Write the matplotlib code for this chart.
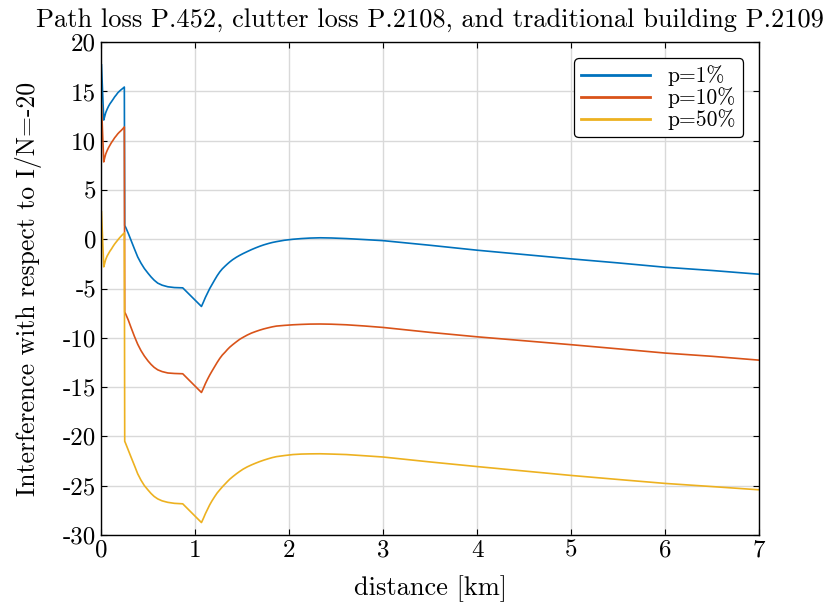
import matplotlib.pyplot as plt
import numpy as np

plt.rcParams['font.family'] = 'serif'
plt.rcParams['font.serif'] = ['cmr10']
plt.rcParams['mathtext.fontset'] = 'cm'
plt.rcParams['axes.unicode_minus'] = False
plt.rcParams['axes.formatter.use_mathtext'] = False

# distance [km] samples shared by the three curves
dist = [0.005, 0.029, 0.04, 0.05, 0.065, 0.08, 0.095, 0.11, 0.128, 0.145,
        0.162, 0.178, 0.195, 0.21, 0.23, 0.248,
        0.252, 0.263, 0.29, 0.319, 0.355, 0.39, 0.425, 0.461, 0.5, 0.532,
        0.565, 0.603, 0.65, 0.71, 0.78, 0.869,
        1.068, 1.09, 1.11, 1.133, 1.156, 1.18, 1.21, 1.235, 1.263, 1.29,
        1.32, 1.345, 1.369, 1.4, 1.44, 1.475, 1.511, 1.555, 1.6, 1.645,
        1.688, 1.73, 1.78, 1.82, 1.866, 1.95, 2.04, 2.13, 2.22, 2.33,
        2.45, 2.61, 2.8,
        3.0, 3.5, 4.0, 4.5, 5.0, 5.5, 6.0, 6.5, 7.0]

# interference margin for each time percentage
p1 = [17.7, 12.1, 12.5, 12.85, 13.2, 13.5, 13.75, 13.95, 14.2, 14.45,
      14.65, 14.86, 15.02, 15.15, 15.3, 15.45,
      1.4, 1.2, 0.6, -0.1, -0.97, -1.79, -2.42, -2.97, -3.45, -3.82,
      -4.15, -4.45, -4.66, -4.82, -4.9, -4.93,
      -6.82, -6.35, -5.9, -5.45, -5.0, -4.6, -4.1, -3.7, -3.31, -3.0,
      -2.72, -2.5, -2.30, -2.07, -1.82, -1.63, -1.45, -1.25, -1.05, -0.87,
      -0.71, -0.57, -0.43, -0.33, -0.24, -0.1, 0.0, 0.07, 0.12, 0.15,
      0.13, 0.07, -0.03,
      -0.14, -0.61, -1.11, -1.55, -1.99, -2.40, -2.84, -3.17, -3.55]
p10 = [13.6, 7.85, 8.3, 8.65, 9.0, 9.3, 9.55, 9.8, 10.05, 10.3,
       10.5, 10.7, 10.87, 11.0, 11.2, 11.4,
       -7.4, -7.6, -8.2, -8.95, -9.85, -10.65, -11.3, -11.85, -12.35, -12.7,
       -13.0, -13.25, -13.43, -13.57, -13.62, -13.65,
       -15.55, -15.1, -14.65, -14.2, -13.78, -13.38, -12.9, -12.5, -12.09, -11.75,
       -11.45, -11.18, -10.95, -10.7, -10.4, -10.15, -9.95, -9.72, -9.52, -9.36,
       -9.22, -9.1, -8.98, -8.89, -8.81, -8.74, -8.68, -8.64, -8.61, -8.6,
       -8.62, -8.68, -8.8,
       -8.95, -9.45, -9.9, -10.3, -10.7, -11.12, -11.55, -11.88, -12.27]
p50 = [2.8, -2.8, -2.4, -2.05, -1.7, -1.45, -1.2, -1.0, -0.72, -0.48,
       -0.27, -0.08, 0.12, 0.28, 0.48, 0.65,
       -20.5, -20.75, -21.4, -22.1, -22.95, -23.8, -24.45, -25.0, -25.45, -25.8,
       -26.1, -26.35, -26.55, -26.7, -26.8, -26.85,
       -28.75, -28.3, -27.85, -27.4, -26.95, -26.55, -26.1, -25.75, -25.43, -25.13,
       -24.83, -24.58, -24.35, -24.1, -23.8, -23.56, -23.33, -23.1, -22.9, -22.72,
       -22.56, -22.42, -22.27, -22.16, -22.06, -21.95, -21.85, -21.8, -21.78, -21.77,
       -21.8, -21.85, -21.97,
       -22.1, -22.6, -23.07, -23.52, -23.97, -24.38, -24.78, -25.1, -25.43]

labels = ['p=1%', 'p=10%', 'p=50%']
colors = ['#0072BD', '#D95319', '#EDB120']

fig = plt.figure(figsize=(8.28, 6.03), dpi=100)
ax = fig.add_axes([0.122, 0.113, 0.795, 0.817])

for y, lab, c in zip([p1, p10, p50], labels, colors):
    ax.plot(dist, y, color=c, lw=1.2, label=lab)

ax.set_xlim(0, 7)
ax.set_ylim(-30, 20)
ax.set_xticks(np.arange(0, 8, 1))
ax.set_yticks(np.arange(-30, 25, 5))
ax.grid(True, color='#d9d9d9', lw=1)
ax.set_axisbelow(True)
ax.tick_params(direction='in', top=True, right=True, length=4, labelsize=18, width=0.8)
for s in ax.spines.values():
    s.set_linewidth(1.0)

ax.set_xlabel('distance [km]', fontsize=19, labelpad=10)
ax.set_ylabel('Interference with respect to I/N=-20', fontsize=18.5, labelpad=15)
ax.set_title('Path loss P.452, clutter loss P.2108, and traditional building P.2109',
             fontsize=19, pad=11)

leg = ax.legend(loc='upper right', fontsize=15.5, fancybox=True, framealpha=1,
                edgecolor='black', handlelength=3.2, borderpad=0.33,
                labelspacing=0.05, handletextpad=0.8, borderaxespad=0.75)
leg.get_frame().set_linewidth(0.9)
for l in leg.get_lines():
    l.set_linewidth(2)

fig.savefig('out.png', dpi=100)
